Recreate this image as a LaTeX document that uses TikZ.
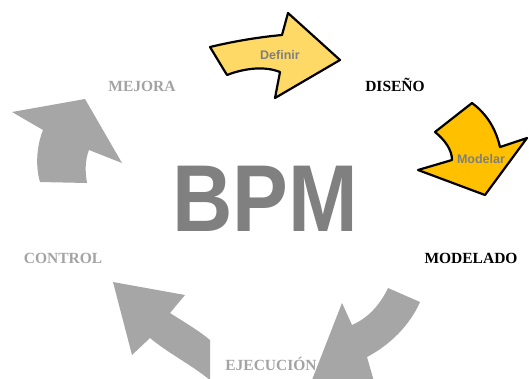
\documentclass[tikz,border=0pt]{standalone}
\usepackage{fontspec}
\setmainfont{Liberation Serif}
\newfontfamily\arialf{Liberation Sans}
\definecolor{cyclegray}{HTML}{A6A6A6}
\definecolor{labelgray}{HTML}{A3A3A3}
\definecolor{bpmgray}{HTML}{808080}
\definecolor{defyellow}{HTML}{FFD966}
\definecolor{modorange}{HTML}{FFC000}
\definecolor{arrowtext}{HTML}{7F7F7F}

\begin{document}
\begin{tikzpicture}[x=1pt,y=-1pt,
  stagelbl/.style={font=\fontsize{15.5}{18}\selectfont\bfseries, inner sep=0pt, anchor=base},
  graystage/.style={stagelbl, text=labelgray},
  blackstage/.style={stagelbl, text=black},
  cyclearrow/.style={fill=cyclegray},
  activearrow/.style={draw=black, line width=2.2pt, line join=round},
  arrowlbl/.style={font=\arialf\bfseries\fontsize{12.5}{14}\selectfont, text=arrowtext, inner sep=0pt}]
\useasboundingbox (0,0) rectangle (529,378);
\begin{scope}
\clip (0,0) rectangle (529,378);

% stage labels
\node[graystage]  (mejora)    at (142,91)  {MEJORA};
\node[blackstage] (diseno)    at (395,91)  {DISEÑO};
\node[blackstage] (modelado)  at (471,263) {MODELADO};
\node[graystage]  (control)   at (63,263)  {CONTROL};
\node[graystage]  (ejecucion) at (271,370) {EJECUCIÓN};

% central title
\node (bpm) at (265,199) {\scalebox{0.88}[1]{\arialf\bfseries\fontsize{95}{95}\selectfont\color{bpmgray}BPM}};

% grey cycle arrows
\fill[cyclearrow] (12,112) -- (85,99) -- (122,163) -- (89,150)
  .. controls (85,160) and (85,172) .. (87,183) -- (40,182)
  .. controls (35,165) and (37,145) .. (43,130) -- cycle;

\fill[cyclearrow] (113,282) -- (185,295) -- (170,313)
  .. controls (184,322) and (198,330) .. (210,340) -- (210,380)
  .. controls (190,364) and (168,353) .. (150,338) -- (132,355) -- cycle;

\fill[cyclearrow] (388,288) -- (420,302)
  .. controls (410,325) and (390,345) .. (367,357) -- (375,385) -- (310,385)
  -- (342,303) -- (352,325)
  .. controls (368,318) and (380,305) .. (388,288) -- cycle;

% highlighted arrows
\filldraw[activearrow, fill=defyellow] (210,47)
  .. controls (235,41) and (260,37) .. (282,35) -- (288,13) -- (340,60)
  -- (275,98) -- (280,72)
  .. controls (265,66) and (245,68) .. (227,75) -- cycle;
\node[arrowlbl] (definir) at (280,55) {Definir};

\filldraw[activearrow, fill=modorange] (435,132) -- (472,103)
  .. controls (488,115) and (496,130) .. (500,147) -- (527,138)
  -- (485,195) -- (418,170) -- (452,160)
  .. controls (452,150) and (445,140) .. (435,132) -- cycle;
\node[arrowlbl] (modelar) at (481,159) {Modelar};
\end{scope}
\end{tikzpicture}
\end{document}
